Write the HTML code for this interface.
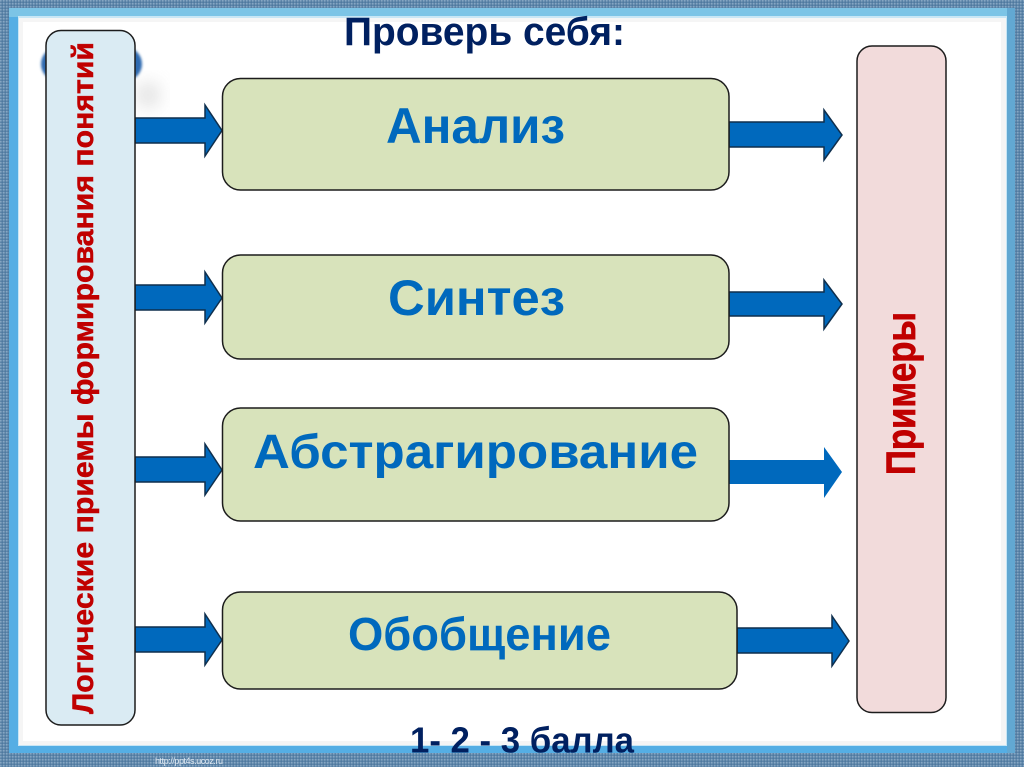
<!DOCTYPE html>
<html lang="ru"><head><meta charset="utf-8"><title>Проверь себя</title>
<style>
html,body{margin:0;padding:0;background:#fff}
svg{display:block}
text{font-family:"Liberation Sans",sans-serif;font-weight:bold}
</style></head>
<body>
<svg width="1024" height="767" viewBox="0 0 1024 767" xmlns="http://www.w3.org/2000/svg">
<defs>
<pattern id="tex" width="3" height="3" patternUnits="userSpaceOnUse">
<rect width="3" height="3" fill="#5f86aa"/>
<rect width="1.5" height="1.5" fill="#86a6c2"/>
<rect x="1.5" y="1.5" width="1.5" height="1.5" fill="#4f799f"/>
</pattern>
<filter id="soft" x="-60%" y="-60%" width="220%" height="220%"><feGaussianBlur stdDeviation="9"/></filter>
<filter id="soft2" x="-20%" y="-20%" width="140%" height="140%"><feGaussianBlur stdDeviation="1.2"/></filter>
</defs>

<!-- frame -->
<rect width="1024" height="767" fill="url(#tex)"/>
<rect x="9" y="8" width="1006" height="745" fill="#55aee4"/>
<rect x="9" y="8" width="1006" height="9" fill="#7cc4e6"/>
<rect x="1007" y="8" width="8" height="745" fill="#62a8d2"/>
<rect x="18" y="16" width="989" height="730" fill="#c8e6f5"/>
<rect x="19" y="18" width="987" height="727" fill="#f5f5f5"/>
<rect x="23" y="22" width="978" height="719" fill="#fff"/>

<!-- ball behind left box -->
<rect x="138" y="84" width="20" height="22" fill="#aaa" opacity=".4" filter="url(#soft)"/>
<rect x="41" y="47" width="101" height="34" rx="17" fill="#2e6bb0" filter="url(#soft2)"/>

<!-- left arrows -->
<g fill="#0069bd" stroke="#0f2f4d" stroke-width="1.500">
<path d="M135 118H205V105L222 130.500L205 156V143H135Z"/>
<path d="M135 285H205V272L222 298L205 323V310H135Z"/>
<path d="M135 457H205V444L222 470L205 495V482H135Z"/>
<path d="M135 627H205V614L222 640L205 665V652H135Z"/>
<!-- right arrows -->
<path d="M729 122H824V110L842 135L824 160V147H729Z"/>
<path d="M729 292H824V280L842 304L824 329V316H729Z"/>
<path d="M737 628H832V616L849 641L832 666V653H737Z"/>
</g>
<path d="M729 460H824V447L842 472L824 498V484H729Z" fill="#0069bd"/>

<!-- boxes -->
<g stroke="#1c1c1c" stroke-width="1.500">
<rect x="46" y="30.500" width="89" height="694.500" rx="15" fill="#daebf3"/>
<rect x="857" y="46" width="89" height="666.500" rx="15" fill="#f2dbdb"/>
<g fill="#d8e3bb">
<rect x="222.500" y="78.500" width="506.500" height="111.500" rx="18"/>
<rect x="222.500" y="255" width="506.500" height="104" rx="18"/>
<rect x="222.500" y="408" width="506.500" height="113" rx="18"/>
<rect x="222.500" y="592" width="514.500" height="97" rx="18"/>
</g>
</g>

<!-- text -->
<text x="344" y="45" font-size="40" fill="#002060" textLength="281" lengthAdjust="spacingAndGlyphs">Проверь себя:</text>
<text x="386" y="143" font-size="50" fill="#0069bd" textLength="179" lengthAdjust="spacingAndGlyphs">Анализ</text>
<text x="388" y="315" font-size="50" fill="#0069bd" textLength="177" lengthAdjust="spacingAndGlyphs">Синтез</text>
<text x="253" y="468" font-size="48" fill="#0069bd" textLength="445" lengthAdjust="spacingAndGlyphs">Абстрагирование</text>
<text x="348" y="650" font-size="46" fill="#0069bd" textLength="263" lengthAdjust="spacingAndGlyphs">Обобщение</text>
<text x="410" y="752.500" font-size="36" fill="#002060" textLength="224" lengthAdjust="spacingAndGlyphs">1- 2 - 3 балла</text>
<text transform="translate(93 714) rotate(-90)" font-size="30" fill="#c00000" stroke="#c00000" stroke-width=".5" textLength="672" lengthAdjust="spacingAndGlyphs">Логические приемы формирования понятий</text>
<text transform="translate(915 475) rotate(-90)" font-size="41" fill="#c00000" stroke="#c00000" stroke-width=".8" textLength="163" lengthAdjust="spacingAndGlyphs">Примеры</text>
<text x="155" y="764" font-size="9" fill="#dfe9f2" style="font-weight:normal" textLength="68">http://ppt4s.ucoz.ru</text>
</svg>
</body></html>
